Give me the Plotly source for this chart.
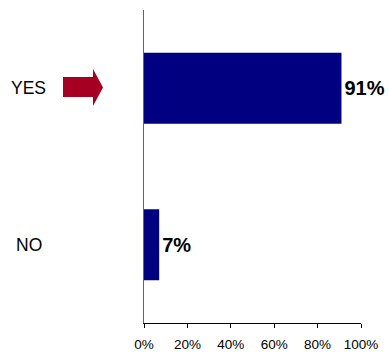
import plotly.graph_objects as go

categories = ["YES", "NO"]
values = [91, 7]
labels = ["91%", "7%"]
tick_vals = [0, 20, 40, 60, 80, 100]
tick_text = ["0%", "20%", "40%", "60%", "80%", "100%"]

fig = go.Figure()
fig.add_trace(go.Bar(
    x=values, y=categories, orientation="h",
    marker=dict(color="#000080", line=dict(width=0)),
    width=0.455,
    text=labels, textposition="outside", cliponaxis=False,
    constraintext="none",
    textfont=dict(family="Liberation Sans, Arial", size=20, color="#000000", weight="bold"),
    hoverinfo="skip",
))

for cat in categories:
    fig.add_annotation(x=-0.53, xref="paper", y=cat, yref="y", text=cat,
                       showarrow=False, xanchor="center", yanchor="middle",
                       font=dict(family="Liberation Sans, Arial", size=17.5, color="#000000"))

# arrow pointing at YES
ax = [-0.3733, -0.2350, -0.2350, -0.1889, -0.2350, -0.2350, -0.3733]
ay = [0.7859, 0.7859, 0.8115, 0.7524, 0.6933, 0.7220, 0.7220]
path = "M " + " L ".join(f"{a},{b}" for a, b in zip(ax, ay)) + " Z"
fig.add_shape(type="path", xref="paper", yref="paper", path=path,
              fillcolor="#A50021", line=dict(width=0))

fig.update_xaxes(range=[0, 100], tickvals=tick_vals, ticktext=tick_text,
                 showgrid=False, zeroline=False, showline=True, linecolor="#000000",
                 linewidth=1, ticks="outside", ticklen=4, tickcolor="#000000",
                 ticklabelstandoff=5, automargin=False,
                 tickfont=dict(family="Liberation Sans, Arial", size=13.5, color="#000000"))
fig.update_yaxes(categoryorder="array", categoryarray=categories, autorange="reversed",
                 showticklabels=False, showgrid=False, zeroline=False, automargin=False,
                 showline=True, linecolor="#666666", linewidth=1, ticks="")

fig.update_layout(width=389, height=354, margin=dict(l=144, r=28, t=10, b=31),
                  plot_bgcolor="white", paper_bgcolor="white", showlegend=False,
                  bargap=0.545)

fig.write_html("out.html")
